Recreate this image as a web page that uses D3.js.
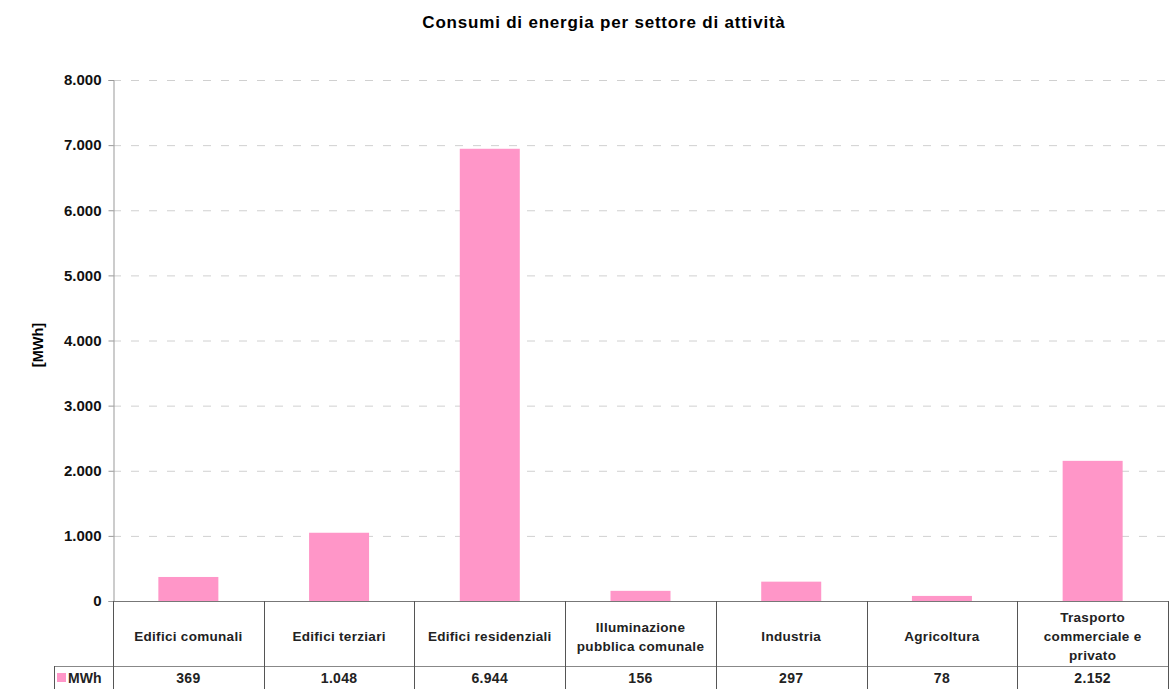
<!DOCTYPE html>
<html><head><meta charset="utf-8">
<script src="https://cdn.jsdelivr.net/npm/d3@7"></script>
<style>body{margin:0;background:#fff}svg{display:block;font-family:"Liberation Sans",Arial,sans-serif}</style>
</head><body><svg id="c" width="1169" height="689"></svg>
<script>
const categories = [["Edifici comunali"],["Edifici terziari"],["Edifici residenziali"],["Illuminazione","pubblica comunale"],["Industria"],["Agricoltura"],["Trasporto","commerciale e","privato"]];
const values = [369, 1048, 6944, 156, 297, 78, 2152];
const valueLabels = ["369","1.048","6.944","156","297","78","2.152"];
const yTicks = [0,1000,2000,3000,4000,5000,6000,7000,8000];
const seriesName = "MWh";
const title = "Consumi di energia per settore di attività";
const yTitle = "[MWh]";

const svg = d3.select("#c");
const L = 113, R = 1168, T = 80, B = 601;
const x = d3.scaleBand().domain(d3.range(values.length)).range([L, R]).paddingInner(0).paddingOuter(0);
const y = d3.scaleLinear().domain([0, 8000]).range([B, T]);
const fmt = v => d3.format(",")(v).replace(/,/g, ".");

svg.append("text").attr("x", 604).attr("y", 28).attr("text-anchor","middle")
  .attr("font-size", 17).attr("font-weight","bold").attr("letter-spacing","0.8px").text(title);

// gridlines
svg.append("g").selectAll("line").data(yTicks.filter(d=>d>0)).join("line")
  .attr("x1", L).attr("x2", 1165).attr("y1", d=>y(d)+0.5).attr("y2", d=>y(d)+0.5)
  .attr("stroke","#d0d0d0").attr("stroke-dasharray","8,10");

// y axis
const ya = svg.append("g").attr("transform",`translate(${L+0.5},0)`)
  .call(d3.axisLeft(y).tickValues(yTicks).tickFormat(fmt).tickSize(5).tickPadding(7));
ya.select(".domain").attr("stroke","#999");
ya.selectAll(".tick line").attr("stroke","#999");
ya.selectAll("text").attr("font-size",15).attr("font-weight","bold").attr("fill","#111")
  .attr("font-family","'Liberation Sans',Arial,sans-serif");

svg.append("text").attr("transform","translate(43,345) rotate(-90)").attr("text-anchor","middle")
  .attr("font-size",14.5).attr("font-weight","bold").text(yTitle);

// bars
const bw = 60;
svg.append("g").selectAll("rect").data(values).join("rect")
  .attr("x",(d,i)=>x(i)+x.bandwidth()/2-bw/2).attr("width",bw)
  .attr("y",d=>y(d)).attr("height",d=>B-y(d)).attr("fill","#ff96c8");

// table
const tg = svg.append("g").attr("stroke","#555").attr("stroke-width",1).attr("fill","none");
tg.append("line").attr("x1",L).attr("x2",R).attr("y1",B+0.5).attr("y2",B+0.5).attr("stroke","#777");
tg.append("line").attr("x1",54).attr("x2",R).attr("y1",666.5).attr("y2",666.5).attr("stroke","#888");
tg.append("line").attr("x1",54.5).attr("x2",54.5).attr("y1",666).attr("y2",689);
d3.range(values.length+1).forEach(i=>{
  const xx = i<values.length ? x(i) : R;
  tg.append("line").attr("x1",Math.round(xx)+0.5).attr("x2",Math.round(xx)+0.5).attr("y1",B).attr("y2",689);
});

const cg = svg.append("g");
categories.forEach((lines,i)=>{
  const cx = x(i)+x.bandwidth()/2;
  const lh = 19, cy = 636;
  const t = cg.append("text").attr("text-anchor","middle").attr("font-size",13.5).attr("letter-spacing","0.3px").attr("font-weight","bold").attr("fill","#222");
  lines.forEach((s,k)=>{
    t.append("tspan").attr("x",cx).attr("y", cy + (k-(lines.length-1)/2)*lh + 5).text(s);
  });
  svg.append("text").attr("x",cx).attr("y",683).attr("text-anchor","middle").attr("letter-spacing","0.3px")
    .attr("font-size",14).attr("font-weight","bold").attr("fill","#222").text(valueLabels[i]);
});

svg.append("rect").attr("x",57).attr("y",673).attr("width",9).attr("height",9).attr("fill","#ff96c8");
svg.append("text").attr("x",68).attr("y",683).attr("font-size",14).attr("font-weight","bold").attr("fill","#222").text(seriesName);
</script></body></html>
